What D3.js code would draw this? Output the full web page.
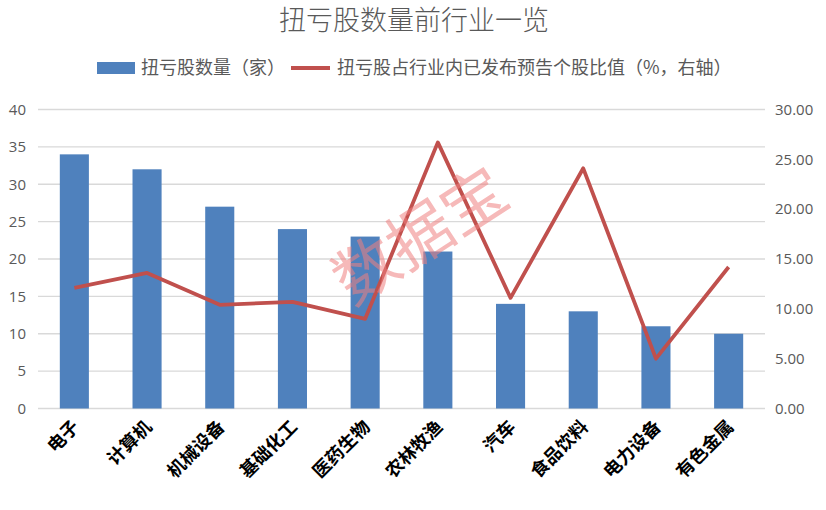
<!DOCTYPE html>
<html><head><meta charset="utf-8">
<script src="https://cdn.jsdelivr.net/npm/d3@7"></script>
<style>body{margin:0;background:#fff}svg{display:block}</style>
</head><body>
<script>
const categories = ["电子","计算机","机械设备","基础化工","医药生物","农林牧渔","汽车","食品饮料","电力设备","有色金属"];
const counts = [34,32,27,24,23,21,14,13,11,10];
const ratios = [12.1,13.6,10.4,10.7,9.0,26.7,11.1,24.1,5.0,14.2];
const leftTicks = [0,5,10,15,20,25,30,35,40];
const rightTicks = [0,5,10,15,20,25,30];
const title = "扭亏股数量前行业一览";
const legendBar = "扭亏股数量（家）";
const legendLine = "扭亏股占行业内已发布预告个股比值（%，右轴）";

const W = 826, H = 510;
const m = {left:38, right:765, top:109.5, bottom:408.5};
const svg = d3.select("body").append("svg").attr("width",W).attr("height",H);
const fontCJK = "'Noto Sans CJK SC', 'Noto Sans', sans-serif";
const fontNum = "'Open Sans', 'Liberation Sans', sans-serif";

const x = d3.scaleBand().domain(categories).range([m.left,m.right]).paddingInner(0.6).paddingOuter(0.3);
const yL = d3.scaleLinear().domain([0,40]).range([m.bottom,m.top]);
const yR = d3.scaleLinear().domain([0,30]).range([m.bottom,m.top]);

// gridlines
svg.append("g").selectAll("line").data(leftTicks).join("line")
  .attr("x1",m.left).attr("x2",m.right)
  .attr("y1",d=>yL(d)).attr("y2",d=>yL(d))
  .attr("stroke","#d9d9d9").attr("stroke-width",1.3);

// left axis labels
const axL = svg.append("g").attr("transform",`translate(${m.left-12},0)`)
  .call(d3.axisLeft(yL).tickValues(leftTicks).tickSize(0).tickPadding(0));
axL.select(".domain").remove();
axL.selectAll("text").attr("font-family",fontNum).attr("font-size",15).attr("fill","#595959");

// right axis labels
const axR = svg.append("g").attr("transform",`translate(${m.right+10},0)`)
  .call(d3.axisRight(yR).tickValues(rightTicks).tickFormat(d3.format(".2f")).tickSize(0).tickPadding(0));
axR.select(".domain").remove();
axR.selectAll("text").attr("font-family",fontNum).attr("font-size",15).attr("fill","#595959");

// bars
svg.append("g").selectAll("rect").data(categories).join("rect")
  .attr("x",d=>x(d)).attr("width",x.bandwidth())
  .attr("y",(d,i)=>yL(counts[i])).attr("height",(d,i)=>yL(0)-yL(counts[i]))
  .attr("fill","#4f81bd");

// line
const line = d3.line().x((d,i)=>x(categories[i])+x.bandwidth()/2).y(d=>yR(d));
svg.append("path").datum(ratios).attr("d",line)
  .attr("fill","none").attr("stroke","#c0504d").attr("stroke-width",3.8)
  .attr("stroke-linejoin","round");

// watermark
svg.append("text").text("数据宝")
  .attr("transform","translate(423,240) rotate(-33)")
  .attr("text-anchor","middle").attr("dominant-baseline","middle")
  .attr("font-family",fontCJK).attr("font-size",64).attr("font-weight",400)
  .attr("fill","#f08080").attr("opacity",0.55);

// x labels
svg.append("g").selectAll("text").data(categories).join("text")
  .text(d=>d)
  .attr("transform",d=>`translate(${x(d)+x.bandwidth()/2+6},${428}) rotate(-45)`)
  .attr("text-anchor","end")
  .attr("font-family",fontCJK).attr("font-size",18).attr("font-weight",700).attr("fill","#000");

// title
svg.append("text").text(title).attr("x",414).attr("y",30).attr("text-anchor","middle")
  .attr("font-family",fontCJK).attr("font-size",27).attr("font-weight",300).attr("fill","#595959");

// legend
const lg = svg.append("g");
lg.append("rect").attr("x",97).attr("y",62).attr("width",38).attr("height",12).attr("fill","#4f81bd");
lg.append("text").text(legendBar).attr("x",141).attr("y",74)
  .attr("font-family",fontCJK).attr("font-size",18).attr("fill","#595959");
lg.append("line").attr("x1",291).attr("x2",330).attr("y1",68).attr("y2",68)
  .attr("stroke","#c0504d").attr("stroke-width",4);
lg.append("text").text(legendLine).attr("x",337).attr("y",74)
  .attr("font-family",fontCJK).attr("font-size",18).attr("fill","#595959");
</script>
</body></html>
